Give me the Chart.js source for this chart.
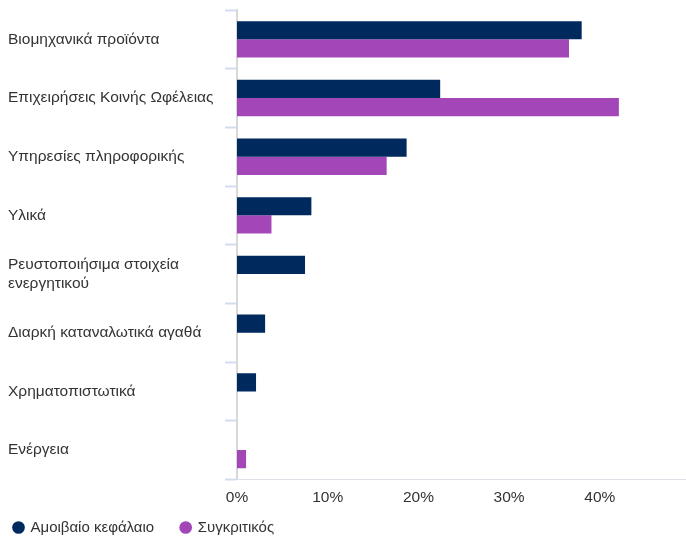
<!DOCTYPE html>
<html>
<head>
<meta charset="utf-8">
<script src="https://cdn.jsdelivr.net/npm/chart.js@4/dist/chart.umd.min.js"></script>
<style>
  html, body { margin: 0; padding: 0; background: #fff; }
  #wrap { width: 686px; height: 536px; position: relative; }
</style>
</head>
<body>
<div id="wrap"><canvas id="chart"></canvas></div>
<script>
const categories = [
  'Βιομηχανικά προϊόντα',
  'Επιχειρήσεις Κοινής Ωφέλειας',
  'Υπηρεσίες πληροφορικής',
  'Υλικά',
  ['Ρευστοποιήσιμα στοιχεία', 'ενεργητικού'],
  'Διαρκή καταναλωτικά αγαθά',
  'Χρηματοπιστωτικά',
  'Ενέργεια'
];
const fundValues = [38.0, 22.4, 18.7, 8.2, 7.5, 3.1, 2.1, null];
const benchmarkValues = [36.6, 42.1, 16.5, 3.8, null, null, null, 1.0];
const seriesNames = ['Αμοιβαίο κεφάλαιο', 'Συγκριτικός'];

const navy = '#002a5e';
const purple = '#a347b8';
const textColor = '#333333';
const font = { family: '"Liberation Sans", Arial, sans-serif', size: 15.5 };

// legend: wide gap between items but little room taken above them
const LEGEND_SQUEEZE = 23;
const legendTweak = {
  id: 'legendTweak',
  start(chart) {
    const lg = chart.legend;
    if (!lg) return;
    const protoFit = Object.getPrototypeOf(lg).fit;
    lg.fit = function () {
      protoFit.call(this);
      this.height -= LEGEND_SQUEEZE;
    };
  },
  afterLayout(chart) {
    const lg = chart.legend;
    lg.top -= LEGEND_SQUEEZE;
    lg.left -= 21;
    lg.right -= 21;
  }
};

new Chart(document.getElementById('chart'), {
  type: 'bar',
  data: {
    labels: categories,
    datasets: [
      { label: seriesNames[0], data: fundValues, backgroundColor: navy,
        barPercentage: 1, categoryPercentage: 0.62 },
      { label: seriesNames[1], data: benchmarkValues, backgroundColor: purple,
        barPercentage: 1, categoryPercentage: 0.62 }
    ]
  },
  options: {
    indexAxis: 'y',
    responsive: true,
    maintainAspectRatio: false,
    animation: false,
    layout: { padding: { left: 8, top: 10, right: 0, bottom: -9 } },
    plugins: {
      tooltip: { enabled: false },
      legend: {
        position: 'bottom',
        align: 'start',
        labels: {
          usePointStyle: true,
          pointStyle: 'circle',
          boxWidth: 9,
          boxHeight: 9,
          padding: 27,
          color: textColor,
          font: { family: font.family, size: 15 }
        }
      }
    },
    scales: {
      x: {
        min: 0,
        max: 49.5,
        grid: { display: false, drawTicks: false },
        border: { display: true, color: '#dde1e8', width: 1 },
        ticks: {
          stepSize: 10,
          color: textColor,
          font: font,
          padding: 9,
          callback: v => (v % 10 === 0 ? v + '%' : null)
        }
      },
      y: {
        grid: {
          display: true,
          drawOnChartArea: false,
          drawTicks: true,
          tickLength: 12,
          tickWidth: 2,
          color: '#d3ddee'
        },
        border: { display: true, color: '#d8d8d8', width: 2 },
        ticks: {
          crossAlign: 'far',
          color: textColor,
          font: font,
          padding: 6
        },
        afterFit: scale => {
          scale.width = 229;
          scale.paddingTop = 0;
          scale.paddingBottom = 0;
        }
      }
    }
  },
  plugins: [legendTweak]
});
</script>
</body>
</html>
